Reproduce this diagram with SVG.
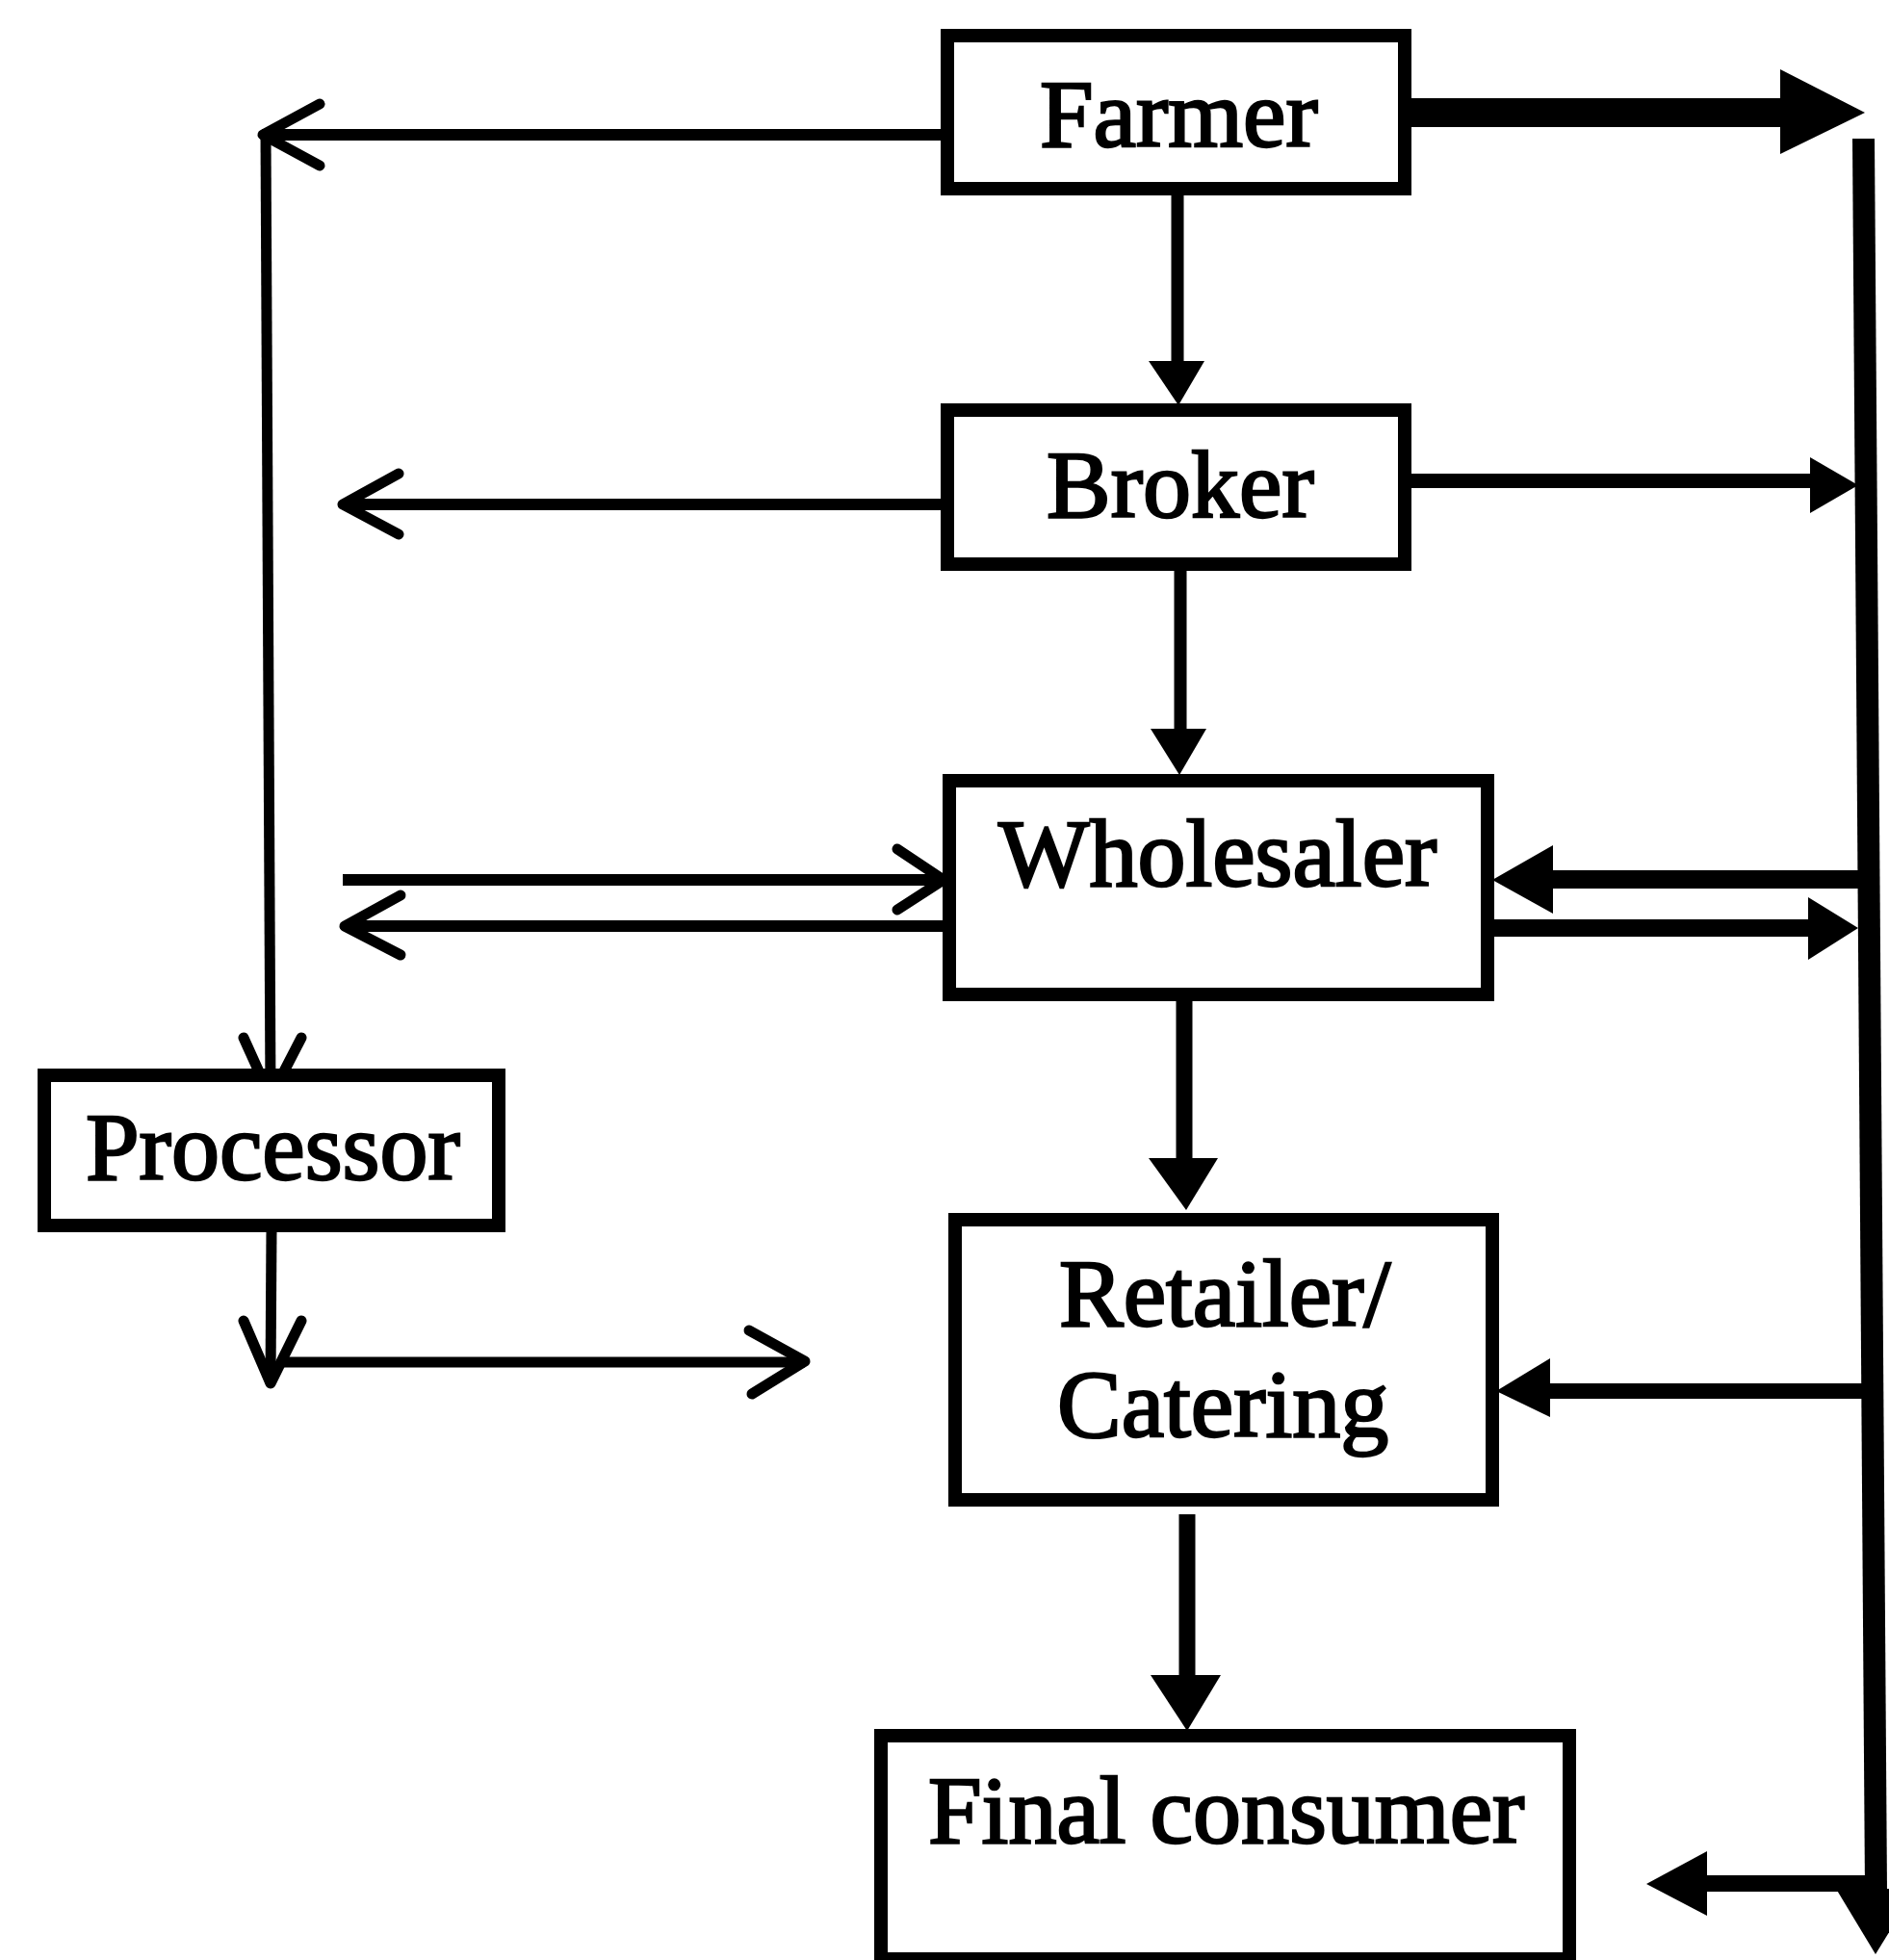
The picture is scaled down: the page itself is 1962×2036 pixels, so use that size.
<svg xmlns="http://www.w3.org/2000/svg" width="1962" height="2036" viewBox="0 0 1962 2036">
<style>
.box{fill:#fff;stroke:#000;stroke-width:14}
.lbl{font-family:"Liberation Serif","Times New Roman",serif;font-size:100px;fill:#000;stroke:#000;stroke-width:2.5}
.thin{fill:none;stroke:#000;stroke-width:11;stroke-linecap:butt}
.open{fill:none;stroke:#000;stroke-width:11;stroke-linecap:round;stroke-linejoin:round}
.head{fill:#000;stroke:none}
</style>
<rect width="1962" height="2036" fill="#fff"/>
<g id="connectors">
  <!-- right vertical bar -->
  <polygon class="head" points="1924,144 1947,144 1960,1966 1937,1966"/>
  <polygon class="head" points="1907,1962 1990,1962 1948,2030"/>
  <!-- Farmer to bar -->
  <rect class="head" x="1462" y="102" width="390" height="30"/>
  <polygon class="head" points="1849,72 1849,160 1937,117"/>
  <!-- Broker to bar -->
  <rect class="head" x="1462" y="492" width="420" height="15"/>
  <polygon class="head" points="1880,475 1880,533 1930,504"/>
  <!-- bar to Wholesaler -->
  <rect class="head" x="1610" y="904" width="322" height="19"/>
  <polygon class="head" points="1550,914 1613,878 1613,949"/>
  <!-- Wholesaler to bar -->
  <rect class="head" x="1548" y="955" width="334" height="18"/>
  <polygon class="head" points="1878,932 1878,997 1930,964"/>
  <!-- bar to Retailer -->
  <rect class="head" x="1608" y="1437" width="328" height="16"/>
  <polygon class="head" points="1554,1445 1610,1411 1610,1472"/>
  <!-- bar to Final consumer -->
  <rect class="head" x="1770" y="1948" width="176" height="17"/>
  <polygon class="head" points="1710,1957 1773,1923 1773,1990"/>
  <!-- vertical flow -->
  <line class="thin" x1="1223" y1="200" x2="1223" y2="378" style="stroke-width:13"/>
  <polygon class="head" points="1193,375 1251,375 1224,421"/>
  <line class="thin" x1="1226" y1="590" x2="1226" y2="760" style="stroke-width:13"/>
  <polygon class="head" points="1195,757 1253,757 1225,805"/>
  <line class="thin" x1="1230" y1="1036" x2="1230" y2="1206" style="stroke-width:17"/>
  <polygon class="head" points="1193,1203 1265,1203 1232,1257"/>
  <line class="thin" x1="1233" y1="1573" x2="1233" y2="1743" style="stroke-width:17"/>
  <polygon class="head" points="1195,1740 1268,1740 1233,1798"/>
  <!-- left side: Farmer to Processor -->
  <line class="thin" x1="980" y1="140" x2="272" y2="140" style="stroke-width:12"/>
  <line class="thin" x1="276" y1="140" x2="281" y2="1138"/>
  <polyline class="open" points="332,108 273,140 332,172"/>
  <polyline class="open" points="253,1078 281,1140 313,1078"/>
  <!-- Broker left -->
  <line class="thin" x1="980" y1="524" x2="356" y2="524" style="stroke-width:12"/>
  <polyline class="open" points="414,492 356,524 414,555"/>
  <!-- Wholesaler left pair -->
  <line class="thin" x1="356" y1="914" x2="980" y2="914" style="stroke-width:12"/>
  <polyline class="open" points="932,882 980,914 932,945"/>
  <line class="thin" x1="983" y1="962" x2="359" y2="962" style="stroke-width:12"/>
  <polyline class="open" points="416,930 358,962 416,992"/>
  <!-- Processor down and right -->
  <line class="thin" x1="282" y1="1278" x2="281" y2="1435"/>
  <polyline class="open" points="253,1372 281,1437 313,1372"/>
  <line class="thin" x1="290" y1="1415" x2="836" y2="1415"/>
  <polyline class="open" points="778,1382 836,1414 781,1448"/>
</g>
<g id="farmer">
  <rect class="box" x="984" y="37" width="475" height="159"/>
  <text class="lbl" x="1080" y="152">Farmer</text>
</g>
<g id="broker">
  <rect class="box" x="984" y="426" width="475" height="160"/>
  <text class="lbl" x="1087" y="537">Broker</text>
</g>
<g id="wholesaler">
  <rect class="box" x="986" y="811" width="559" height="222"/>
  <text class="lbl" x="1037" y="920">Wholesaler</text>
</g>
<g id="processor">
  <rect class="box" x="46" y="1117" width="472" height="156"/>
  <text class="lbl" x="89" y="1225">Processor</text>
</g>
<g id="retailer">
  <rect class="box" x="992" y="1267" width="558" height="291"/>
  <text class="lbl" x="1100" y="1377">Retailer/</text>
  <text class="lbl" x="1098" y="1492">Catering</text>
</g>
<g id="final-consumer">
  <rect class="box" x="915" y="1803" width="715" height="232"/>
  <text class="lbl" x="964" y="1914">Final consumer</text>
</g>
</svg>
